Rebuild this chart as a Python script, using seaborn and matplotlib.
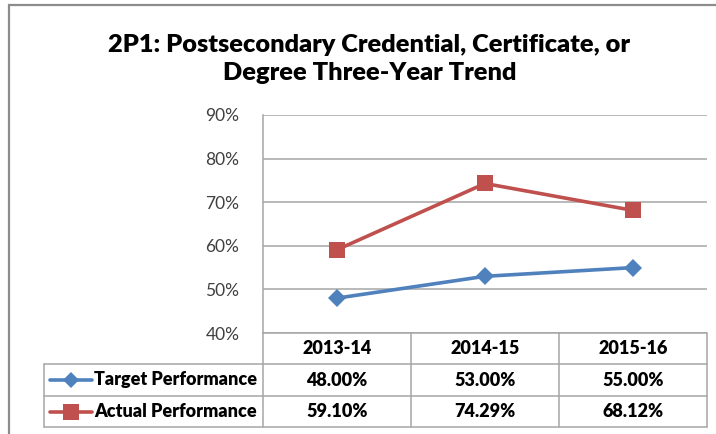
import numpy as np
import pandas as pd
import seaborn as sns
from matplotlib import pyplot as plt
from matplotlib.lines import Line2D
from matplotlib.patches import Rectangle

# データ
years = ["2013-14", "2014-15", "2015-16"]
target = [48.00, 53.00, 55.00]
actual = [59.10, 74.29, 68.12]
series_names = ["Target Performance", "Actual Performance"]
yticks = [40, 50, 60, 70, 80, 90]
title = "2P1: Postsecondary Credential, Certificate, or\nDegree Three-Year Trend"

blue = "#4F81BD"
red = "#C0504D"
grid_col = "#A6A6A6"

sns.set_theme(style="white")
plt.rcParams["font.family"] = ["Lato", "DejaVu Sans"]

df = pd.DataFrame({"year": years * 2,
                   "value": target + actual,
                   "series": [series_names[0]] * 3 + [series_names[1]] * 3})

W, H = 716, 434
fig = plt.figure(figsize=(W / 100, H / 100), dpi=100)

# 外枠
fig.patches.append(Rectangle((9 / W, -0.05), 1.2, 1 - 5 / H + 0.05,
                             transform=fig.transFigure, fill=False,
                             edgecolor="#8C8C8C", linewidth=1.6))

x0, x1, ytop, ybot = 263, 707, 115, 333
ax = fig.add_axes([x0 / W, 1 - ybot / H, (x1 - x0) / W, (ybot - ytop) / H])

sns.lineplot(data=df, x="year", y="value", hue="series", style="series",
             markers={series_names[0]: "D", series_names[1]: "s"},
             dashes=False, palette={series_names[0]: blue, series_names[1]: red},
             linewidth=2.6, markeredgewidth=0, legend=False, ax=ax)
for line, ms in zip(ax.lines, [9, 12]):
    line.set_markersize(ms)

ax.set_xlim(-0.5, 2.5)
ax.set_ylim(40, 90)
ax.set_yticks(yticks)
ax.set_yticklabels([f"{t}%" for t in yticks], fontsize=12.5, color="#404040")
ax.tick_params(axis="y", length=0, pad=17)
ax.set_xticks([])
ax.set_xlabel("")
ax.set_ylabel("")
ax.grid(axis="y", color=grid_col, linewidth=1.1)
for s in ["top", "right", "bottom"]:
    ax.spines[s].set_visible(False)
ax.spines["left"].set_color(grid_col)
ax.spines["left"].set_linewidth(1.1)

fig.text(0.5 * (107 + 632) / W, 1 - 59 / H, title, ha="center", va="center",
         fontsize=18.3, fontweight="heavy", linespacing=1.35, color="black")

# データテーブル
def fx(px):
    return px / W

def fy(py):
    return 1 - py / H

tl = 44
cols = [263, 411, 559, 707]
rows = [333, 364, 396, 427]
lkw = dict(color=grid_col, linewidth=1.1, transform=fig.transFigure)
fig.add_artist(Line2D([fx(cols[0]), fx(cols[-1])], [fy(rows[0])] * 2, **lkw))
for r in rows[1:]:
    fig.add_artist(Line2D([fx(tl), fx(cols[-1])], [fy(r)] * 2, **lkw))
for c in cols[1:]:
    fig.add_artist(Line2D([fx(c)] * 2, [fy(rows[0]), fy(rows[-1])], **lkw))
fig.add_artist(Line2D([fx(cols[0])] * 2, [fy(rows[0]), fy(rows[-1])], **lkw))
fig.add_artist(Line2D([fx(tl)] * 2, [fy(rows[1]), fy(rows[-1])], **lkw))

tkw = dict(fontsize=13, fontweight="heavy", color="black")
for i, yr in enumerate(years):
    cx = (cols[i] + cols[i + 1]) / 2
    fig.text(fx(cx), fy((rows[0] + rows[1]) / 2), yr, ha="center", va="center", **tkw)

for j, (name, vals, col, mk, ms) in enumerate(
        zip(series_names, [target, actual], [blue, red], ["D", "s"], [8, 11])):
    cy = fy((rows[j + 1] + rows[j + 2]) / 2)
    fig.add_artist(Line2D([fx(50), fx(92)], [cy, cy], color=col, linewidth=2.6,
                          transform=fig.transFigure))
    fig.add_artist(Line2D([fx(71)], [cy], color=col, marker=mk, markersize=ms,
                          markeredgewidth=0, linestyle="none",
                          transform=fig.transFigure))
    fig.text(fx(94), cy, name, ha="left", va="center", **tkw)
    for i, v in enumerate(vals):
        cx = (cols[i] + cols[i + 1]) / 2
        fig.text(fx(cx), cy, f"{v:.2f}%", ha="center", va="center", **tkw)

plt.savefig("out.png", dpi=100)
